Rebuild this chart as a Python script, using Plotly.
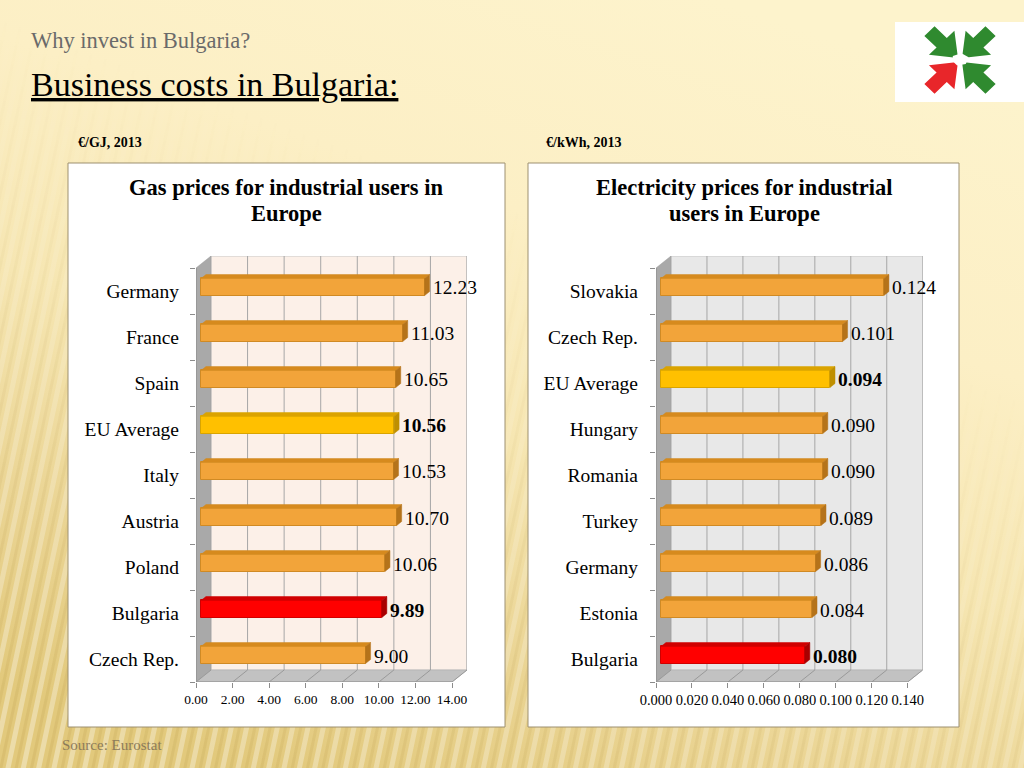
import base64
import plotly.graph_objects as go

W, H = 1024, 768
SERIF = "Liberation Serif, Times New Roman, serif"

# ---------------- data ----------------
gas_countries = ["Germany", "France", "Spain", "EU Average", "Italy",
                 "Austria", "Poland", "Bulgaria", "Czech Rep."]
gas_values = [12.23, 11.03, 10.65, 10.56, 10.53, 10.70, 10.06, 9.89, 9.00]
gas_ticks = [0, 2, 4, 6, 8, 10, 12, 14]
gas_tick_labels = ["0.00", "2.00", "4.00", "6.00", "8.00", "10.00", "12.00", "14.00"]
gas_value_labels = ["12.23", "11.03", "10.65", "10.56", "10.53", "10.70", "10.06", "9.89", "9.00"]

elec_countries = ["Slovakia", "Czech Rep.", "EU Average", "Hungary", "Romania",
                  "Turkey", "Germany", "Estonia", "Bulgaria"]
elec_values = [0.124, 0.101, 0.094, 0.090, 0.090, 0.089, 0.086, 0.084, 0.080]
elec_ticks = [0, 0.02, 0.04, 0.06, 0.08, 0.10, 0.12, 0.14]
elec_tick_labels = ["0.000", "0.020", "0.040", "0.060", "0.080", "0.100", "0.120", "0.140"]
elec_value_labels = ["0.124", "0.101", "0.094", "0.090", "0.090", "0.089", "0.086", "0.084", "0.080"]

highlight = {"EU Average": "gold", "Bulgaria": "red"}

# ---------------- styles ----------------
COLORS = {
    "normal": dict(front="#F2A43A", top="#D68A1E", side="#B5731A", edge="#D08A24"),
    "gold": dict(front="#FFC000", top="#DBA300", side="#BF8F00", edge="#D9A400"),
    "red": dict(front="#FF0000", top="#D00000", side="#A80000", edge="#D00000"),
}
DEPTH_X, DEPTH_Y = 15, 12      # 3D depth in px
BAND = 46                       # category band height in px
BASE_PX = 682                   # front baseline in px
BAR_W = 0.37


def X(px):
    return px / W


def Y(py):
    return 1 - py / H


fig = go.Figure()
shapes = []
annotations = []

# panel boxes + logo box
shapes.append(dict(type="rect", xref="paper", yref="paper", x0=X(68), x1=X(505), y0=Y(727), y1=Y(163),
                   fillcolor="white", line=dict(color="#9d9070", width=1), layer="below"))
shapes.append(dict(type="rect", xref="paper", yref="paper", x0=X(528), x1=X(959), y0=Y(727), y1=Y(163),
                   fillcolor="white", line=dict(color="#9d9070", width=1), layer="below"))
shapes.append(dict(type="rect", xref="paper", yref="paper", x0=X(895), x1=X(1024), y0=Y(102), y1=Y(22),
                   fillcolor="white", line=dict(width=0), layer="below"))


def build_chart(k, cats, vals, vlabels, ticks, tlabels, x0px, xendpx, wall, tick_size, standoff):
    xs = "" if k == 1 else str(k)
    xref, yref = "x" + xs, "y" + xs
    n = len(cats)
    xmax = ticks[-1]
    scale = (xendpx - x0px) / xmax
    dx = DEPTH_X / scale
    dyc = DEPTH_Y / BAND
    top_px = BASE_PX - BAND * (n + dyc)

    fig.layout["xaxis" + xs] = dict(
        domain=[X(x0px), X(xendpx + DEPTH_X)], range=[0, xmax + dx], anchor=yref, automargin=False,
        tickmode="array", tickvals=ticks, ticktext=tlabels, ticks="outside", ticklen=5,
        tickcolor="#8c8c8c", showgrid=False, zeroline=False, showline=False,
        tickfont=dict(family=SERIF, size=tick_size, color="black"), fixedrange=True)
    fig.layout["yaxis" + xs] = dict(
        domain=[Y(BASE_PX), Y(top_px)], range=[0, n + dyc], anchor=xref, automargin=False,
        tickmode="array", tickvals=[i + 0.5 for i in range(n)], ticktext=list(reversed(cats)),
        ticks="", ticklabelstandoff=standoff,
        minor=dict(tickmode="linear", tick0=0, dtick=1, ticks="outside", ticklen=5,
                   tickcolor="#8c8c8c", showgrid=False),
        showgrid=False, zeroline=False, showline=False,
        tickfont=dict(family=SERIF, size=19.5, color="black"), fixedrange=True)

    below = dict(xref=xref, yref=yref, layer="below")
    # back wall
    shapes.append(dict(type="rect", x0=dx, x1=xmax + dx, y0=dyc, y1=n + dyc, fillcolor=wall,
                       line=dict(color="#c8c8c8", width=1), **below))
    # left wall
    shapes.append(dict(type="path", path=f"M 0,0 L 0,{n} L {dx},{n + dyc} L {dx},{dyc} Z",
                       fillcolor="#a9a9a9", line=dict(color="#9a9a9a", width=0.5), **below))
    # floor
    shapes.append(dict(type="path", path=f"M 0,0 L {xmax},0 L {xmax + dx},{dyc} L {dx},{dyc} Z",
                       fillcolor="#c2c2c2", line=dict(color="#a8a8a8", width=0.5), **below))
    for t in ticks:
        if t > 0:
            shapes.append(dict(type="line", x0=t + dx, x1=t + dx, y0=dyc, y1=n + dyc,
                               line=dict(color="#a6a6a6", width=1), **below))
        shapes.append(dict(type="line", x0=t, x1=t + dx, y0=0, y1=dyc,
                           line=dict(color="#999999", width=1), **below))
    # front axis lines
    shapes.append(dict(type="line", x0=0, x1=0, y0=0, y1=n, line=dict(color="#8c8c8c", width=1), **below))
    shapes.append(dict(type="line", x0=0, x1=xmax, y0=0, y1=0, line=dict(color="#8c8c8c", width=1), **below))

    b = dx / 3
    ox, oy = dx / 3, dyc / 3
    centers, fronts, edges = [], [], []
    for j, (c, v, lab) in enumerate(zip(cats, vals, vlabels)):
        idx = n - 1 - j
        yc = idx + 0.5 + dyc / 3
        centers.append(yc)
        col = COLORS[highlight.get(c, "normal")]
        fronts.append(col["front"])
        edges.append(col["edge"])
        yt, yb = yc + BAR_W / 2, yc - BAR_W / 2
        shapes.append(dict(type="path", xref=xref, yref=yref, layer="above",
                           path=f"M {b},{yt} L {b + v},{yt} L {b + v + ox},{yt + oy} L {b + ox},{yt + oy} Z",
                           fillcolor=col["top"], line=dict(color=col["edge"], width=0.5)))
        shapes.append(dict(type="path", xref=xref, yref=yref, layer="above",
                           path=f"M {b + v},{yb} L {b + v},{yt} L {b + v + ox},{yt + oy} L {b + v + ox},{yb + oy} Z",
                           fillcolor=col["side"], line=dict(color=col["side"], width=0.5)))
        bold = c in highlight
        annotations.append(dict(xref=xref, yref=yref, x=b + v + ox, y=yc, xanchor="left", yanchor="middle",
                                xshift=1, yshift=-1, showarrow=False,
                                text=f"<b>{lab}</b>" if bold else lab,
                                font=dict(family=SERIF, size=19.5, color="black")))

    fig.add_trace(go.Bar(x=vals, y=centers, base=b, orientation="h", width=BAR_W,
                         marker=dict(color=fronts, line=dict(color=edges, width=1)),
                         xaxis=xref, yaxis=yref, hoverinfo="skip", showlegend=False))


build_chart(1, gas_countries, gas_values, gas_value_labels, gas_ticks, gas_tick_labels,
            196, 452, "#fcf0e8", 13.5, 16)
build_chart(2, elec_countries, elec_values, elec_value_labels, elec_ticks, elec_tick_labels,
            656, 907.7, "#e8e8e8", 14.5, 17)


def txt(text, xpx, ypx, size, color="black", xanchor="left"):
    annotations.append(dict(xref="paper", yref="paper", x=X(xpx), y=Y(ypx), xanchor=xanchor,
                            yanchor="middle", showarrow=False, text=text,
                            font=dict(family=SERIF, size=size, color=color)))


txt("Why invest in Bulgaria?", 29, 40, 22.5, "#6a6a6a")
txt("<u>Business costs in Bulgaria:</u>", 29, 84, 34, "black")
txt("<b>€/GJ, 2013</b>", 76, 143, 14)
txt("<b>€/kWh, 2013</b>", 544, 143, 14)
txt("<b>Gas prices for industrial users in</b>", 286, 188, 22.5, xanchor="center")
txt("<b>Europe</b>", 286, 214, 22.5, xanchor="center")
txt("<b>Electricity prices for industrial</b>", 744, 187, 22.5, xanchor="center")
txt("<b>users in Europe</b>", 744, 213, 22.5, xanchor="center")
txt("Source: Eurostat", 60, 745, 15, "#8c7b5a")

# background & logo as inline SVG images
bg_svg = """<svg xmlns="http://www.w3.org/2000/svg" width="1024" height="768" viewBox="0 0 1024 768">
<defs>
<linearGradient id="g" x1="0.25" y1="1" x2="0.7" y2="0">
<stop offset="0" stop-color="#e2c97c"/>
<stop offset="0.2" stop-color="#ead493"/>
<stop offset="0.45" stop-color="#f6e6b2"/>
<stop offset="0.7" stop-color="#fcefc5"/>
<stop offset="1" stop-color="#fdf3cc"/>
</linearGradient>
<linearGradient id="m" x1="0.1" y1="1" x2="0.6" y2="0">
<stop offset="0" stop-color="#fff" stop-opacity="1"/>
<stop offset="0.75" stop-color="#fff" stop-opacity="0"/>
</linearGradient>
<mask id="mk"><rect width="1024" height="768" fill="url(#m)"/></mask>
<pattern id="p" width="15" height="60" patternUnits="userSpaceOnUse" patternTransform="rotate(12)">
<rect x="0" y="0" width="5" height="60" fill="#ffffff" fill-opacity="0.35"/>
<rect x="9" y="0" width="3" height="60" fill="#a88a30" fill-opacity="0.14"/>
</pattern>
</defs>
<rect width="1024" height="768" fill="url(#g)"/>
<rect width="1024" height="768" fill="url(#p)" mask="url(#mk)"/>
</svg>"""

arrow = "0,0 -32,-25 -32,-10 -56,-10 -56,10 -32,10 -32,25"
logo_svg = f"""<svg xmlns="http://www.w3.org/2000/svg" width="100" height="100" viewBox="0 0 100 100">
<g transform="translate(50,50) rotate(45) translate(-4,0)"><polygon points="{arrow}" fill="#2f8a2f"/></g>
<g transform="translate(50,50) rotate(135) translate(-4,0)"><polygon points="{arrow}" fill="#2f8a2f"/></g>
<g transform="translate(50,50) rotate(225) translate(-4,0)"><polygon points="{arrow}" fill="#2f8a2f"/></g>
<g transform="translate(50,50) rotate(315) translate(-4,0)"><polygon points="{arrow}" fill="#e8262a"/></g>
<path d="M 40,44 L 52,40 L 62,46 L 58,56 L 46,58 L 40,52 Z" fill="white"/>
</svg>"""


def svg_uri(s):
    return "data:image/svg+xml;base64," + base64.b64encode(s.encode("utf-8")).decode("ascii")


images = [
    dict(source=svg_uri(bg_svg), xref="paper", yref="paper", x=0, y=1, sizex=1, sizey=1,
         xanchor="left", yanchor="top", sizing="stretch", layer="below"),
    dict(source=svg_uri(logo_svg), xref="paper", yref="paper", x=X(924), y=Y(26),
         sizex=X(72), sizey=68 / H, xanchor="left", yanchor="top", sizing="stretch", layer="above"),
]

fig.update_layout(
    width=W, height=H, margin=dict(l=0, r=0, t=0, b=0, autoexpand=False),
    paper_bgcolor="#fbefc6", plot_bgcolor="rgba(0,0,0,0)",
    shapes=shapes, annotations=annotations, images=images,
    showlegend=False, barmode="overlay", bargap=0,
)

fig.write_html("out.html", config={"displayModeBar": False},
               post_script="document.body.style.margin='0px';")
